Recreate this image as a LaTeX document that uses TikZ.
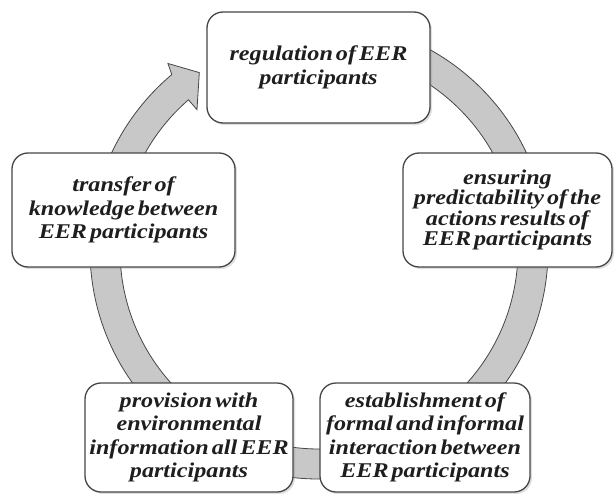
\documentclass[tikz,border=0pt]{standalone}
\usepackage{fontspec}
\setmainfont{Liberation Serif}[FakeStretch=1.15,WordSpace=0.5]
\usetikzlibrary{positioning,shadows}
\definecolor{ringgray}{RGB}{200,200,200}
\definecolor{edgegray}{RGB}{70,70,70}
\definecolor{textgray}{RGB}{30,30,30}

\begin{document}
\begin{tikzpicture}[x=1pt,y=1pt,
every node/.style={draw=edgegray, line width=1.3pt, fill=white, rounded corners=16pt,
 align=center, inner sep=0pt, text=textgray,
 font=\bfseries\itshape\fontsize{21}{23.5}\selectfont,
 drop shadow={opacity=0.25, shadow xshift=2pt, shadow yshift=-2pt}}]
\useasboundingbox (-319,-243) rectangle (296,250);
% cycle ring with head
\draw[fill=ringgray, draw=edgegray, line width=0.8pt] (95:229) arc[start angle=95, end angle=-230, radius=229]
  -- (129:240) -- (124:214) -- (131:186) -- (-229:199) arc[start angle=-229, end angle=95, radius=199] -- cycle;
\node[minimum width=223pt, minimum height=111pt] (A1) at (-0.5,182.5) {regulation of EER\\participants};
\node[minimum width=209pt, minimum height=114pt, font=\bfseries\itshape\fontsize{21}{20.5}\selectfont] (A2) at (188.5,40) {ensuring\\predictability of the\\actions results of\\EER participants};
\node[minimum width=210pt, minimum height=109pt] (A3) at (106,-187.5) {establishment of\\formal and informal\\interaction between\\EER participants};
\node[minimum width=208pt, minimum height=109pt] (A4) at (-130,-187.5) {provision with\\environmental\\information all EER\\participants};
\node[minimum width=223pt, minimum height=114pt] (A5) at (-195.5,40) {transfer of\\knowledge between\\EER participants};
\end{tikzpicture}
\end{document}
